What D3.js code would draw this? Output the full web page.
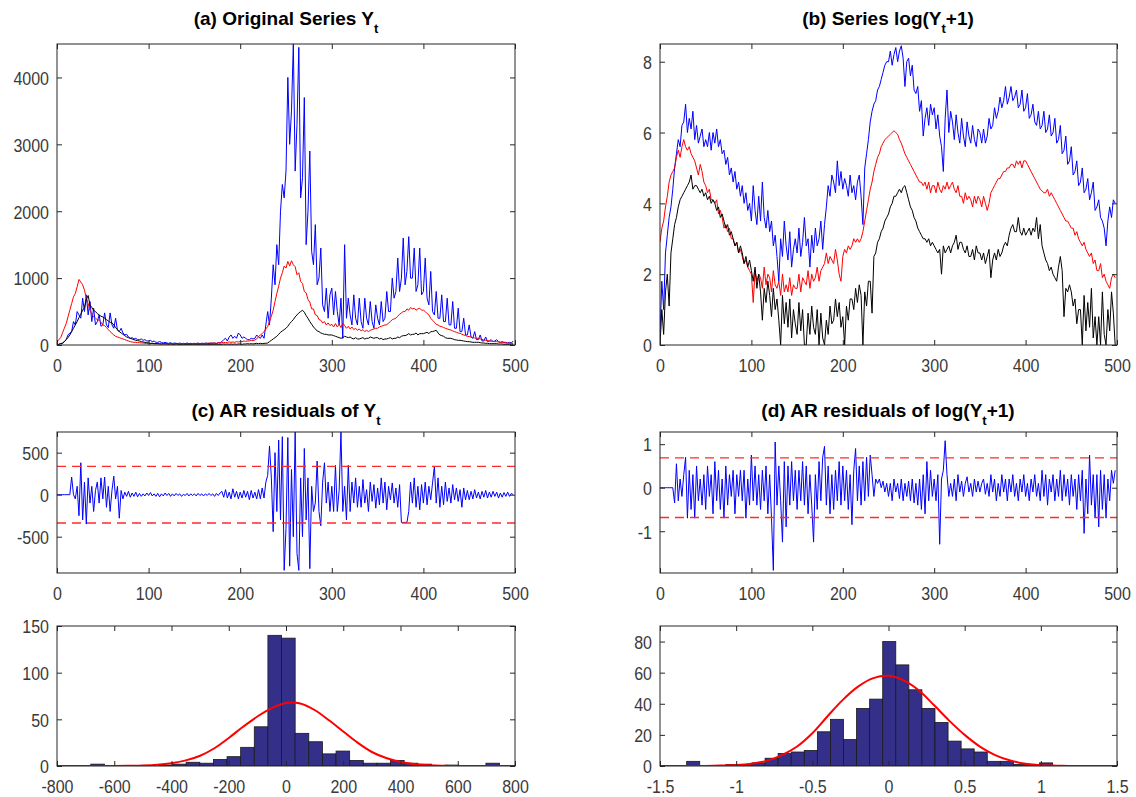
<!DOCTYPE html>
<html><head><meta charset="utf-8">
<script src="https://cdn.jsdelivr.net/npm/d3@7"></script>
<style>
body{margin:0;background:#fff;}
svg{display:block;}
text{font-family:"Liberation Sans",Arial,Helvetica,sans-serif;}
</style></head><body>
<svg id="chart" width="1136" height="797"></svg>
<script>
// ---------------- DATA ----------------
// time index (every second observation)
const timeIndex = d3.range(0, 500, 2);
const timeTicks = [0, 100, 200, 300, 400, 500];

// (a) original series Y_t
const seriesYBlue = [
0,10,20,20,50,80,150,180,200,350,
300,500,450,400,700,500,750,450,650,350,
550,300,350,450,280,300,480,300,260,480,
300,250,400,220,200,250,180,150,160,120,
100,110,90,100,80,80,90,70,80,60,
60,70,50,60,40,40,50,40,30,40,
30,25,35,20,30,25,20,30,20,25,
20,30,20,25,20,25,20,30,20,25,
20,30,25,20,30,25,30,20,35,30,
50,80,100,60,120,150,100,130,100,180,
150,100,120,100,80,80,100,90,100,150,
120,100,150,100,300,500,300,700,1200,900,
1500,1200,2000,2400,2200,2600,4000,3000,3500,4500,
2600,3300,4450,2200,2500,3700,1500,2000,2900,1400,
1200,1800,900,1000,1450,600,500,850,400,750,
850,450,800,500,300,700,100,1500,400,700,
450,300,750,400,300,700,350,250,700,400,
300,650,350,250,600,400,300,650,350,400,
800,500,500,1000,700,800,1300,800,1000,1600,
900,1100,1620,1000,1000,1450,800,900,1450,750,
800,1300,700,600,1100,500,450,800,400,400,
750,350,350,700,300,300,650,250,250,550,
200,200,400,150,150,300,120,100,200,80,
80,150,60,60,120,50,60,80,50,60,
80,50,40,50,40,40,30,40,30,60];
const seriesYRed = [
50,80,110,180,250,320,420,520,620,720,
770,870,980,940,900,820,700,620,520,460,
420,400,380,370,340,300,290,260,230,200,
175,150,130,120,110,100,90,80,70,60,
50,45,40,40,35,35,30,30,25,25,
25,20,25,20,20,20,20,15,20,20,
20,15,20,20,15,20,20,15,20,20,
20,20,15,20,20,20,25,20,20,25,
25,20,25,30,25,30,30,25,35,30,
35,40,35,40,45,40,45,40,50,45,
50,50,60,55,60,60,70,65,75,90,
125,150,170,200,240,275,350,430,520,650,
770,880,1000,1080,1180,1150,1250,1180,1260,1200,
1170,1050,1080,950,920,800,780,680,640,540,
540,450,440,380,370,330,350,300,330,290,
310,270,320,270,310,260,330,290,250,280,
240,270,230,250,220,240,210,230,200,220,
200,220,230,240,250,250,270,280,290,300,
300,330,350,380,390,400,430,460,480,500,
500,540,520,560,540,550,520,540,550,520,
520,500,470,450,400,370,340,310,300,280,
275,260,250,240,230,225,210,200,190,180,
175,160,150,140,130,125,120,110,105,100,
100,90,85,75,70,65,60,55,55,50,
50,45,40,40,35,30,30,25,25,25];
const seriesYBlack = [
10,10,20,30,50,80,110,150,200,250,
300,350,410,460,520,560,680,740,600,560,
520,500,470,450,430,420,400,380,360,340,
330,300,260,230,200,180,160,140,120,110,
100,90,80,70,65,60,50,45,40,35,
30,25,25,20,20,20,15,15,15,15,
15,10,15,10,10,15,10,10,10,10,
10,10,10,10,10,10,10,10,10,10,
10,10,10,10,10,10,10,10,10,10,
10,15,10,15,10,15,10,15,10,15,
15,10,15,15,20,15,20,15,20,25,
20,25,20,25,25,30,50,70,90,110,
130,160,190,210,230,250,280,320,350,380,
420,450,480,500,520,490,440,400,350,310,
270,240,210,200,180,170,160,160,150,150,
150,140,130,120,110,100,110,130,120,110,
120,100,90,110,90,90,100,110,90,100,
100,120,110,100,110,110,90,100,80,90,
90,100,110,90,100,100,120,110,130,140,
140,150,170,150,160,160,180,150,170,170,
170,180,190,170,200,200,210,220,180,150,
140,130,110,100,100,100,90,80,75,70,
70,65,60,55,50,50,45,40,40,40,
40,35,30,30,25,25,20,20,20,20,
20,15,15,15,10,10,10,10,10,10];

// (b) series log(Y_t+1)
const logBlue = [
0.3,1.8,1.0,2.6,3.1,3.6,3.9,4.4,5.0,5.4,
5.8,5.6,6.2,6.3,6.8,6.0,6.4,6.1,6.6,5.8,
6.2,5.7,5.9,6.1,5.6,5.8,5.6,6.0,5.5,6.0,
5.7,6.1,5.6,5.8,5.4,5.5,5.1,5.3,4.8,5.0,
4.6,4.9,4.4,4.6,4.2,4.5,4.0,4.3,3.8,4.0,
3.5,4.5,3.8,3.4,4.2,3.5,4.6,3.6,3.3,3.8,
3.2,3.5,2.8,3.1,2.5,1.8,3.0,2.5,3.5,2.8,
2.4,3.2,2.2,2.7,3.0,2.6,3.3,2.5,2.9,3.6,
2.8,3.0,2.2,3.1,2.6,3.3,2.8,3.0,3.5,2.7,
3.4,3.9,4.5,4.2,4.8,4.6,4.3,5.2,4.5,4.9,
4.4,4.7,4.5,4.2,4.8,4.3,4.5,4.1,4.6,4.8,
4.2,3.4,5.0,5.4,5.8,6.3,6.6,6.8,6.9,7.2,
7.3,7.5,7.7,7.9,8.0,8.0,8.3,7.9,8.2,8.4,
8.0,8.3,8.45,8.1,7.3,8.0,8.1,7.6,7.9,7.2,
7.1,7.3,6.6,6.9,5.9,6.4,6.7,6.2,6.8,6.5,
6.7,6.1,6.5,5.9,5.6,4.9,6.4,7.2,6.0,6.6,
6.3,5.8,6.5,6.0,5.7,6.4,5.9,5.6,6.3,5.9,
5.7,6.2,5.8,5.6,6.1,6.0,5.7,6.1,5.7,5.9,
6.4,6.1,6.2,6.7,6.4,6.6,7.0,6.7,6.9,7.3,
6.8,7.0,7.3,6.9,7.0,7.2,6.7,6.8,7.2,6.6,
6.7,7.1,6.4,6.5,6.8,6.3,6.2,6.6,6.1,6.2,
6.6,6.0,6.1,6.5,5.9,6.0,6.4,5.7,5.8,6.2,
5.4,5.5,5.9,5.1,5.2,5.6,4.8,4.9,5.2,4.5,
4.6,5.0,4.3,4.4,4.7,4.1,4.3,4.6,3.8,3.9,
4.1,3.6,3.5,3.3,2.8,3.5,3.9,3.6,4.1,4.0];
const logRed = [
2.9,3.3,3.5,3.9,4.2,4.6,4.8,4.9,5.0,5.3,
5.5,5.3,5.6,5.8,5.6,5.5,5.6,5.4,5.3,5.2,
5.0,4.8,5.1,4.9,4.6,4.5,4.3,4.4,4.1,4.1,
4.0,4.1,3.7,3.8,3.6,3.3,3.4,3.2,3.3,3.0,
3.0,2.8,2.9,2.6,2.7,2.5,2.3,2.4,2.2,2.1,
2.0,1.2,2.1,1.8,2.0,1.9,1.6,2.2,1.7,2.0,
1.9,1.5,2.1,1.7,1.6,1.8,1.4,2.0,1.5,1.7,
1.5,1.9,1.4,1.7,1.6,1.6,2.0,1.5,1.9,1.8,
1.7,2.1,1.6,2.0,1.8,1.9,2.2,1.8,2.1,2.2,
2.3,2.6,2.3,2.5,2.4,2.3,2.7,2.4,2.0,1.8,
2.5,2.7,2.6,2.8,2.7,2.8,3.0,2.9,3.0,2.9,
3.0,3.2,3.5,3.8,4.1,4.4,4.6,4.9,5.1,5.3,
5.4,5.6,5.7,5.8,5.85,5.9,5.95,6.0,6.05,6.0,
5.95,5.8,5.7,5.55,5.4,5.3,5.2,5.1,5.0,4.9,
4.8,4.7,4.6,4.6,4.5,4.6,4.4,4.6,4.3,4.5,
4.5,4.3,4.6,4.4,4.3,4.5,4.4,4.6,4.4,4.5,
4.6,4.4,4.3,4.5,4.2,4.2,4.0,4.3,4.1,4.2,
4.1,3.9,4.2,4.0,4.2,4.1,3.9,4.2,4.0,3.8,
4.0,4.3,4.4,4.5,4.6,4.7,4.7,4.8,4.9,4.9,
5.0,5.0,5.1,5.1,5.0,5.2,5.1,5.2,5.0,5.2,
5.2,5.1,5.0,4.9,4.8,4.7,4.6,4.5,4.4,4.35,
4.3,4.3,4.4,4.2,4.3,4.2,4.1,4.0,3.9,3.8,
3.7,3.6,3.5,3.5,3.4,3.3,3.3,3.1,3.2,3.0,
2.9,2.8,2.9,2.7,2.6,2.5,2.6,2.3,2.4,2.1,
2.1,2.3,1.9,2.0,1.8,1.7,1.6,1.9,2.0,1.9];
const logBlack = [
0.0,1.0,0.3,1.5,2.0,1.1,2.6,3.0,3.4,3.6,
3.9,4.1,4.2,4.3,4.4,4.5,4.6,4.8,4.4,4.5,
4.5,4.4,4.3,4.4,4.2,4.3,4.1,4.2,4.0,4.1,
4.0,3.8,3.9,3.6,3.7,3.5,3.3,3.4,3.1,3.2,
3.0,2.8,2.9,2.6,2.8,2.6,2.3,2.5,2.2,2.4,
2.1,1.8,2.2,1.6,2.0,1.5,0.7,1.6,1.2,1.8,
1.4,0.8,1.6,1.0,1.3,0.7,0.0,1.4,0.6,1.2,
0.5,1.3,0.2,1.0,0.6,0.3,1.2,0.4,1.0,0.0,
0.0,0.9,0.3,1.1,0.5,0.3,1.0,0.0,0.9,0.2,
0.0,0.7,0.3,1.1,0.6,0.7,1.3,0.8,1.2,0.5,
0.8,0.0,1.1,0.7,1.3,1.3,1.0,1.6,1.2,1.7,
1.4,0.0,1.5,1.1,1.8,1.8,0.9,2.5,2.6,2.9,
3.0,3.2,3.3,3.5,3.6,3.7,3.9,4.0,4.2,4.2,
4.3,4.4,4.3,4.45,4.5,4.3,4.1,3.9,3.8,3.6,
3.5,3.3,3.2,3.1,3.0,3.0,2.9,3.0,2.8,2.9,
2.8,2.7,2.6,2.7,2.0,2.8,2.6,2.7,2.8,2.6,
2.8,2.9,3.1,2.7,2.9,2.9,2.7,2.6,2.8,2.5,
2.5,2.7,2.4,2.8,2.6,2.6,2.4,2.6,2.3,2.5,
2.7,1.9,2.4,2.6,2.4,2.7,2.5,2.6,2.8,2.9,
2.8,3.1,3.3,3.4,3.2,3.2,3.6,3.2,3.1,3.3,
3.1,3.2,3.3,3.1,3.3,3.2,3.6,3.0,3.4,2.8,
2.6,2.4,2.3,2.1,2.2,2.0,1.9,1.8,2.2,2.5,
2.1,0.8,1.6,1.5,1.7,1.5,1.1,1.3,0.6,1.0,
1.0,0.0,1.4,0.4,1.2,0.5,1.6,0.2,0.8,0.0,
0.8,0.0,1.5,0.3,0.0,1.0,0.4,1.5,0.9,0.0];

// (c) AR residuals of Y_t
const residY = [
0,0,0,0,0,0,0,0,210,0,
-50,100,-250,380,-300,150,-350,200,-100,100,
-200,50,150,-100,200,-50,210,-150,100,-200,
50,220,-50,100,-280,50,-50,30,-20,40,
-30,20,-20,30,-25,15,-20,10,-15,20,
-10,25,-15,10,-20,15,-25,10,-15,20,
-10,15,-20,10,-15,15,-10,10,-20,5,
-10,15,-15,10,-10,10,-15,15,-10,10,
-15,10,-10,15,-10,10,-20,15,-10,20,
40,-30,60,-40,30,-50,70,-30,40,-50,
30,-40,50,-30,40,-60,50,-40,30,-50,
60,-50,80,-40,150,230,580,200,-440,500,
-200,650,-300,690,-900,-400,680,-850,300,-500,
750,-700,-900,200,-500,550,-300,200,-880,100,
-200,-100,400,-200,-370,150,380,-100,150,-200,
100,-200,350,-200,50,750,-200,100,-300,350,
-200,150,-100,200,-150,100,-150,180,-100,60,
-200,150,-80,120,-160,80,-120,200,-100,150,
-180,100,-60,140,-100,80,-150,120,-330,-330,
-330,-330,-200,150,-100,200,-150,100,-180,120,
-100,150,-120,100,-60,140,340,-100,200,-150,
100,-120,150,-80,80,-100,120,-60,80,-80,
60,-150,80,-60,50,-60,40,-50,60,-40,
30,-50,40,-30,50,-40,30,-30,40,-20,
30,-40,20,-30,25,-20,30,-20,15,0];
const bandY = 337;

// (d) AR residuals of log(Y_t+1)
const residLog = [
0,0,0,0,0,0,0,0,-0.35,0.55,
-0.3,0.2,-0.2,0.3,0.7,-0.7,0.4,-0.5,0.3,-0.7,
0.5,-0.3,0.2,-0.4,0.3,-0.5,0.5,-0.2,0.3,-0.6,
0.6,-0.3,0.4,-0.5,0.2,-0.7,0.5,-0.4,0.3,-0.2,
0.4,-0.6,0.3,-0.2,0.4,-0.3,0.4,-0.7,0.2,-0.4,
0.75,-0.3,0.5,-0.4,0.3,-0.5,0.4,-0.3,0.5,-0.6,
0.3,-0.7,-1.9,1.05,-0.4,0.5,-0.3,-1.25,0.6,-0.9,
0.5,-0.4,0.6,-0.3,0.4,-0.5,0.4,-0.3,0.6,-0.4,
0.5,-0.6,0.3,-0.4,-1.25,0.3,-0.5,0.6,-0.3,0.7,
0.95,-0.4,0.5,-0.6,0.3,-0.5,0.4,-0.3,0.6,-0.4,
0.5,-0.3,0.4,-0.5,0.3,-0.85,0.4,0.9,-0.3,0.5,
-0.4,0.6,-0.3,0.7,-0.2,0.75,0.3,-0.2,0.2,0.1,
0.2,0.0,0.15,-0.1,0.1,-0.2,0.1,-0.3,0.2,-0.1,
0.1,-0.25,0.2,-0.3,0.1,-0.2,0.15,-0.3,0.2,-0.35,
0.1,-0.4,0.2,-0.5,0.3,-0.6,0.6,-0.3,0.4,-0.2,
0.2,-0.3,0.3,-1.3,0.2,0.4,1.08,0.3,-0.2,0.1,
-0.2,0.2,-0.3,0.3,-0.1,0.15,-0.2,0.1,0.25,-0.1,
0.1,-0.2,0.2,-0.1,0.15,-0.1,0.1,0.2,-0.15,0.1,
-0.2,0.3,-0.1,0.2,-0.3,0.1,-0.2,0.3,-0.1,0.2,
-0.3,0.2,-0.1,0.3,-0.2,0.1,-0.3,0.2,-0.1,0.3,
-0.2,0.1,-0.3,0.2,-0.1,0.3,-0.2,0.1,-0.3,0.4,
-0.2,0.3,-0.4,0.2,-0.1,0.3,-0.3,0.2,-0.2,0.4,
-0.3,0.3,-0.2,0.2,-0.4,0.3,-0.2,0.2,-0.5,0.3,
-0.3,0.4,-1.05,0.2,-0.6,0.75,-0.4,0.3,-0.7,0.3,
-0.9,0.4,-0.5,0.3,-0.7,0.2,-0.3,0.4,0.1,0.4];
const bandLog = 0.685;

// histograms of residuals
const histYStart = -682, histYWidth = 47.6;
const histYCounts = [2,0,0,0,0,1,2,4,3,7,10,20,42,140,137,35,26,13,16,6,3,3,6,3,2,0,1,0,0,3];
const histLStart = -1.325, histLWidth = 0.0858;
const histLCounts = [3,0,0,1,1,2,5,8,9,10,22,30,17,37,43,80,65,49,37,28,16,11,9,3,3,1,1,2];

// fitted normal curves
const fitYx = [-800,-750,-700,-650,-600,-550,-500,-450,-400,-350,-300,-250,-200,-150,-100,-50,0,50,100,150,200,250,300,350,400,450,500,550,600,650,700,750,800];
const fitYy = [0,0,0,0,0.05,0.2,0.5,1.3,3,6,11,19,30,42,53,62,67.5,67,60,49,37,25,15,8.5,4.3,2,0.8,0.3,0.1,0,0,0,0];
const fitLx = [-1.5,-1.4,-1.3,-1.2,-1.1,-1.0,-0.9,-0.8,-0.7,-0.6,-0.5,-0.4,-0.3,-0.2,-0.1,0,0.1,0.2,0.3,0.4,0.5,0.6,0.7,0.8,0.9,1.0,1.1,1.2,1.3,1.4,1.5];
const fitLy = [0,0,0.02,0.08,0.25,0.6,1.5,3.3,7,12.5,21,32,42.5,51,56.5,58,55,48.5,39,29,20,12.5,7,3.5,1.5,0.5,0.2,0.06,0.02,0,0];

// tick values
const ticksA = [0,1000,2000,3000,4000];
const ticksB = [0,2,4,6,8];
const ticksC = [-500,0,500];
const ticksD = [-1,0,1];
const ticksEx = [-800,-600,-400,-200,0,200,400,600,800];
const ticksEy = [0,50,100,150];
const ticksFx = [-1.5,-1,-0.5,0,0.5,1,1.5];
const ticksFy = [0,20,40,60,80];

// ---------------- DRAWING ----------------
const svg = d3.select("#chart");
const AX = "#262626", LBL = "#3a3a3a";
const BLUE = "#0000ff", RED = "#ff0000", BLACK = "#000000";
let clipN = 0;

function makePanel(box, xDom, yDom) {
  const w = box.r - box.l, h = box.b - box.t;
  const g = svg.append("g").attr("transform", `translate(${box.l},${box.t})`);
  const x = d3.scaleLinear().domain(xDom).range([0, w]);
  const y = d3.scaleLinear().domain(yDom).range([h, 0]);
  const id = "clip" + (clipN++);
  g.append("clipPath").attr("id", id).append("rect").attr("width", w).attr("height", h);
  const plot = g.append("g").attr("clip-path", `url(#${id})`);
  return {g, plot, x, y, w, h};
}

function drawAxes(p, xTicks, yTicks) {
  const {g, x, y, w, h} = p;
  const fmt = d => String(d);
  const mk = (a) => a.tickSizeInner(-5).tickSizeOuter(0);
  const bottom = g.append("g").attr("transform", `translate(0,${h})`)
    .call(mk(d3.axisBottom(x).tickValues(xTicks).tickFormat(fmt)));
  const top = g.append("g").call(mk(d3.axisTop(x).tickValues(xTicks).tickFormat("")));
  const left = g.append("g").call(mk(d3.axisLeft(y).tickValues(yTicks).tickFormat(fmt)));
  const right = g.append("g").attr("transform", `translate(${w},0)`)
    .call(mk(d3.axisRight(y).tickValues(yTicks).tickFormat("")));
  [bottom, top, left, right].forEach(a => {
    a.attr("font-size", null).attr("font-family", null);
    a.select(".domain").remove();
    a.selectAll("line").attr("stroke", AX).attr("stroke-width", 1);
  });
  bottom.selectAll("text").attr("y", null).attr("dy", null)
    .attr("transform", "translate(0,27) scale(1,1.16)")
    .attr("font-size", 16).attr("fill", LBL).attr("text-anchor", "middle");
  left.selectAll("text").attr("x", null).attr("dy", null)
    .attr("transform", "translate(-8,6.8) scale(1,1.16)")
    .attr("font-size", 16).attr("fill", LBL).attr("text-anchor", "end");
  g.append("rect").attr("width", w).attr("height", h)
    .attr("fill", "none").attr("stroke", AX).attr("stroke-width", 1);
}

function drawSeries(p, values, color, width) {
  const line = d3.line().x((d, i) => p.x(timeIndex[i])).y(d => p.y(d));
  p.plot.append("path").datum(values).attr("d", line)
    .attr("fill", "none").attr("stroke", color).attr("stroke-width", width)
    .attr("stroke-linejoin", "miter");
}

function drawBand(p, v) {
  [v, -v].forEach(b => {
    p.plot.append("line").attr("x1", 0).attr("x2", p.w)
      .attr("y1", p.y(b)).attr("y2", p.y(b))
      .attr("stroke", "#ff2a2a").attr("stroke-width", 1.3)
      .attr("stroke-dasharray", "9,6");
  });
}

function drawHist(p, start, width, counts, fx, fy) {
  const bins = counts.map((c, i) => ({x0: start + i * width, x1: start + (i + 1) * width, c}))
    .filter(b => b.c > 0);
  p.plot.selectAll("rect.bar").data(bins).enter().append("rect")
    .attr("class", "bar")
    .attr("x", b => p.x(b.x0)).attr("width", b => p.x(b.x1) - p.x(b.x0))
    .attr("y", b => p.y(b.c)).attr("height", b => p.y(0) - p.y(b.c))
    .attr("fill", "#34308a").attr("stroke", "#1a1a1a").attr("stroke-width", 0.8);
  const pts = fx.map((x, i) => [x, fy[i]]);
  const line = d3.line().x(d => p.x(d[0])).y(d => p.y(d[1])).curve(d3.curveCatmullRom.alpha(0.5));
  p.plot.append("path").datum(pts).attr("d", line)
    .attr("fill", "none").attr("stroke", RED).attr("stroke-width", 2);
}

function title(cx, y, before, sub, after) {
  const t = svg.append("text").attr("x", cx).attr("y", y)
    .attr("text-anchor", "middle").attr("font-weight", "bold")
    .attr("font-size", 19).attr("fill", "#000");
  t.append("tspan").text(before);
  t.append("tspan").attr("font-size", 13).attr("dy", 8).text(sub);
  if (after) t.append("tspan").attr("dy", -8).text(after);
}

// Panel (a)
const pA = makePanel({l:57, t:44, r:515, b:345}, [0, 500], [0, 4500]);
drawSeries(pA, seriesYBlue, BLUE, 1);
drawSeries(pA, seriesYRed, RED, 1);
drawSeries(pA, seriesYBlack, BLACK, 1);
drawAxes(pA, timeTicks, ticksA);
title(286, 25, "(a) Original Series Y", "t", "");

// Panel (b)
const pB = makePanel({l:660, t:44, r:1117, b:345}, [0, 500], [0, 8.5]);
drawSeries(pB, logBlue, BLUE, 1);
drawSeries(pB, logRed, RED, 1);
drawSeries(pB, logBlack, BLACK, 1);
drawAxes(pB, timeTicks, ticksB);
title(888, 25, "(b) Series log(Y", "t", "+1)");

// Panel (c)
const pC = makePanel({l:57, t:432, r:515, b:573}, [0, 500], [-932, 746]);
drawSeries(pC, residY, BLUE, 1);
drawBand(pC, bandY);
drawAxes(pC, timeTicks, ticksC);
title(286, 417, "(c) AR residuals of Y", "t", "");

// Panel (d)
const pD = makePanel({l:660, t:432, r:1117, b:573}, [0, 500], [-1.96, 1.28]);
drawSeries(pD, residLog, BLUE, 1);
drawBand(pD, bandLog);
drawAxes(pD, timeTicks, ticksD);
title(888, 417, "(d) AR residuals of log(Y", "t", "+1)");

// Panel (e)
const pE = makePanel({l:57, t:626, r:515, b:766}, [-800, 800], [0, 150]);
drawHist(pE, histYStart, histYWidth, histYCounts, fitYx, fitYy);
drawAxes(pE, ticksEx, ticksEy);

// Panel (f)
const pF = makePanel({l:660, t:626, r:1117, b:766}, [-1.5, 1.5], [0, 90]);
drawHist(pF, histLStart, histLWidth, histLCounts, fitLx, fitLy);
drawAxes(pF, ticksFx, ticksFy);
</script></body></html>
